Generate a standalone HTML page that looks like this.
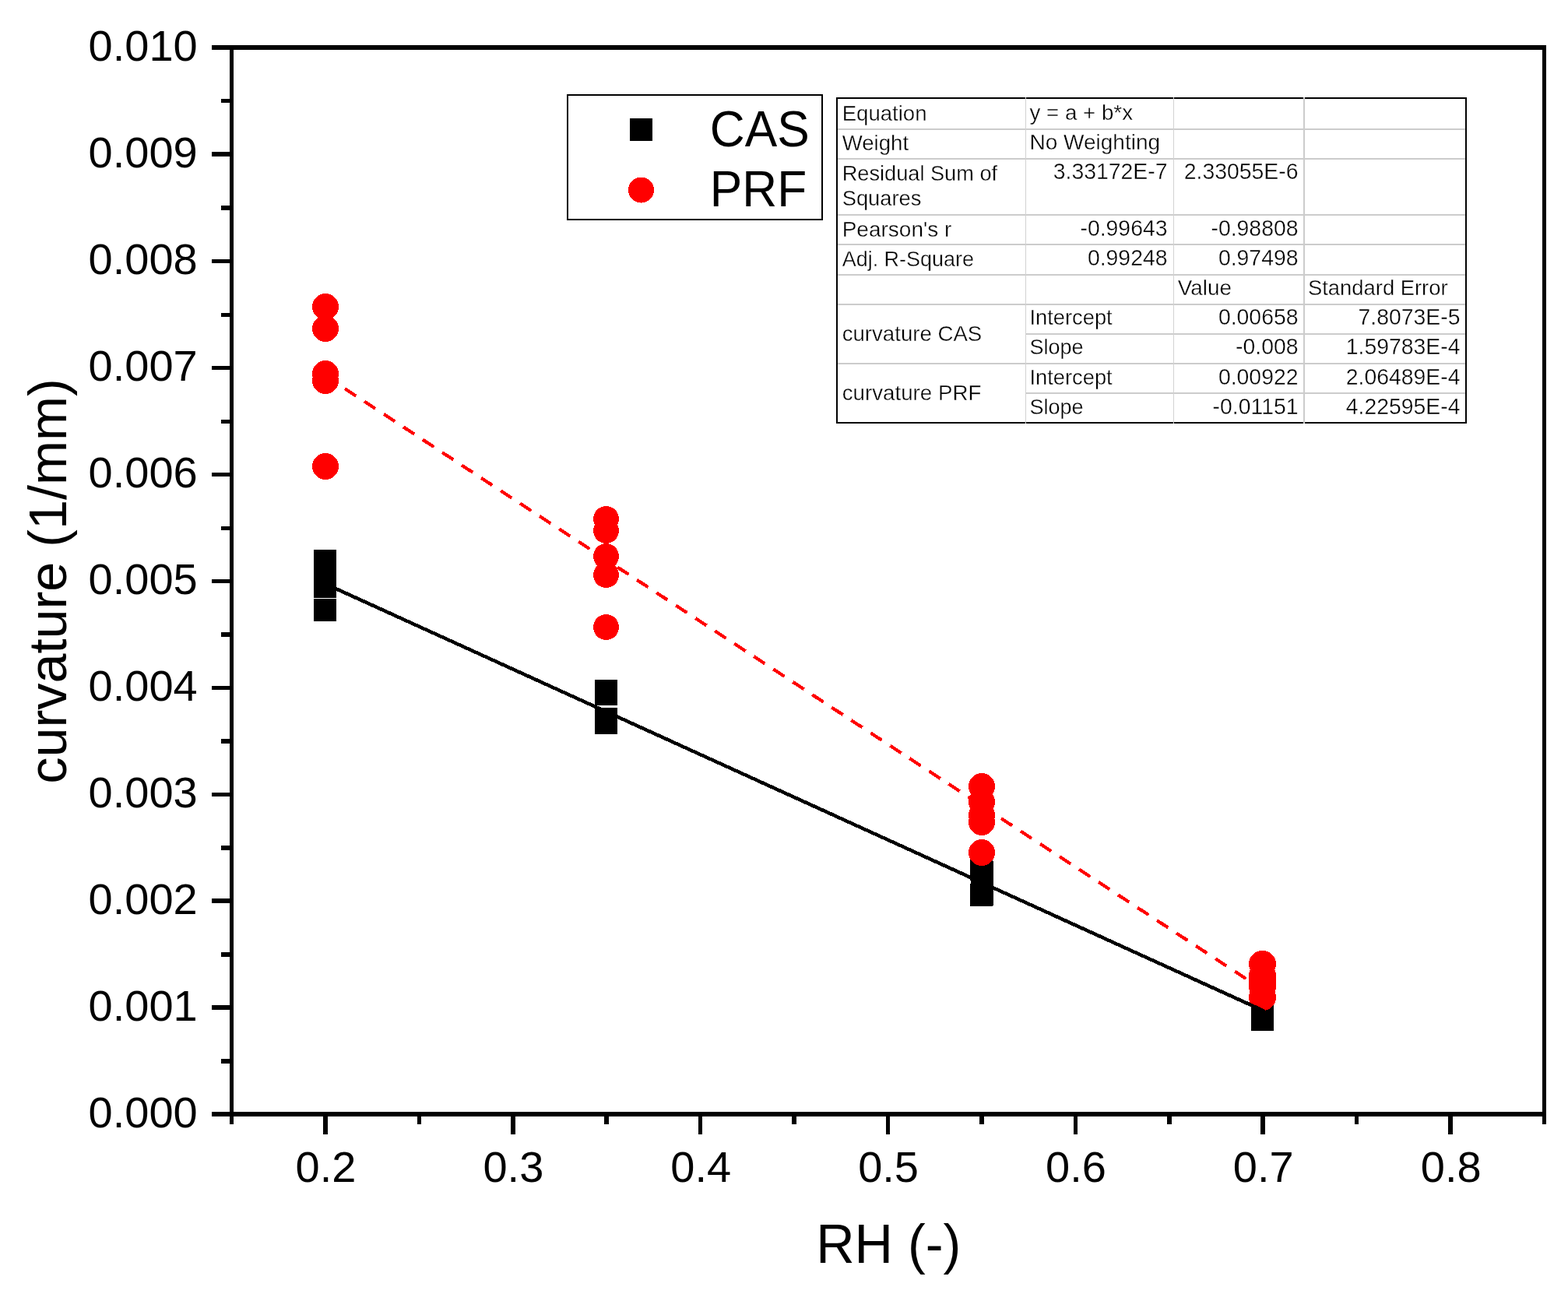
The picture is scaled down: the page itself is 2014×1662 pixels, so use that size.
<!DOCTYPE html>
<html lang="en"><head><meta charset="utf-8"><title>curvature vs RH</title>
<style>html,body{margin:0;padding:0;background:#fff;}svg{display:block;}text{font-family:"Liberation Sans", sans-serif;fill:#000;}</style></head><body>
<svg width="2014" height="1662" viewBox="0 0 2014 1662">
<rect x="0" y="0" width="2014" height="1662" fill="#fff"/>
<g shape-rendering="crispEdges">
<rect x="403" y="706" width="29" height="29" fill="#000"/>
<rect x="403" y="722" width="29" height="29" fill="#000"/>
<rect x="403" y="739" width="29" height="29" fill="#000"/>
<rect x="403" y="769" width="29" height="29" fill="#000"/>
<rect x="764" y="873" width="29" height="29" fill="#000"/>
<rect x="764" y="877" width="29" height="29" fill="#000"/>
<rect x="764" y="909" width="29" height="29" fill="#000"/>
<rect x="764" y="914" width="29" height="29" fill="#000"/>
<rect x="1246" y="1102" width="29" height="29" fill="#000"/>
<rect x="1247" y="1106" width="29" height="29" fill="#000"/>
<rect x="1247" y="1134" width="29" height="29" fill="#000"/>
<rect x="1246" y="1135" width="29" height="29" fill="#000"/>
<rect x="1607" y="1288" width="29" height="29" fill="#000"/>
<rect x="1607" y="1295" width="29" height="29" fill="#000"/>
<ellipse cx="418" cy="394" rx="17" ry="17" fill="#f00"/>
<ellipse cx="418" cy="422" rx="17" ry="17" fill="#f00"/>
<ellipse cx="418" cy="480" rx="17" ry="17" fill="#f00"/>
<ellipse cx="418" cy="489" rx="17" ry="17" fill="#f00"/>
<ellipse cx="418" cy="599" rx="17" ry="17" fill="#f00"/>
<ellipse cx="778.5" cy="666.5" rx="16.5" ry="16.5" fill="#f00"/>
<ellipse cx="778.5" cy="681.5" rx="16.5" ry="16.5" fill="#f00"/>
<ellipse cx="778.5" cy="714.5" rx="16.5" ry="16.5" fill="#f00"/>
<ellipse cx="778.5" cy="738.5" rx="16.5" ry="16.5" fill="#f00"/>
<ellipse cx="778.5" cy="805.5" rx="16.5" ry="16.5" fill="#f00"/>
<ellipse cx="1261" cy="1010" rx="17" ry="17" fill="#f00"/>
<ellipse cx="1261" cy="1030" rx="17" ry="17" fill="#f00"/>
<ellipse cx="1261" cy="1047" rx="17" ry="17" fill="#f00"/>
<ellipse cx="1261" cy="1056" rx="17" ry="17" fill="#f00"/>
<ellipse cx="1261" cy="1095" rx="17" ry="17" fill="#f00"/>
<ellipse cx="1621.5" cy="1238.2" rx="17.5" ry="17.5" fill="#f00"/>
<ellipse cx="1621.5" cy="1253.3" rx="17.5" ry="17.5" fill="#f00"/>
<ellipse cx="1621.5" cy="1259.8" rx="17.5" ry="17.5" fill="#f00"/>
<ellipse cx="1621.5" cy="1267" rx="17.5" ry="17.5" fill="#f00"/>
<ellipse cx="1621.5" cy="1280.8" rx="17.5" ry="17.5" fill="#f00"/>
<line x1="417.93" y1="749.94" x2="1622.21" y2="1297.94" stroke="#000" stroke-width="4.5" stroke-linecap="square"/>
<line x1="417.93" y1="482.83" x2="1260.93" y2="1034.74" stroke="#f00" stroke-width="4.2" stroke-dasharray="17 12.9"/>
<line x1="1260.93" y1="1034.74" x2="1622.21" y2="1271.27" stroke="#f00" stroke-width="4.2" stroke-dasharray="17 12.9"/>
</g>
<g shape-rendering="crispEdges">
<rect x="295" y="58" width="5" height="1376" fill="#000"/>
<rect x="1981" y="58" width="5" height="1386" fill="#000"/>
<rect x="272" y="58" width="1714" height="6" fill="#000"/>
<rect x="272" y="1428" width="1714" height="6" fill="#000"/>
<rect x="272" y="195" width="24" height="6" fill="#000"/>
<rect x="272" y="333" width="24" height="5" fill="#000"/>
<rect x="272" y="470" width="24" height="5" fill="#000"/>
<rect x="272" y="607" width="24" height="5" fill="#000"/>
<rect x="272" y="744" width="24" height="5" fill="#000"/>
<rect x="272" y="881" width="24" height="5" fill="#000"/>
<rect x="272" y="1018" width="24" height="5" fill="#000"/>
<rect x="272" y="1154" width="24" height="6" fill="#000"/>
<rect x="272" y="1291" width="24" height="6" fill="#000"/>
<rect x="284" y="127" width="12" height="5" fill="#000"/>
<rect x="284" y="264" width="12" height="6" fill="#000"/>
<rect x="284" y="402" width="12" height="5" fill="#000"/>
<rect x="284" y="539" width="12" height="5" fill="#000"/>
<rect x="284" y="676" width="12" height="5" fill="#000"/>
<rect x="284" y="812" width="12" height="6" fill="#000"/>
<rect x="284" y="949" width="12" height="6" fill="#000"/>
<rect x="284" y="1086" width="12" height="6" fill="#000"/>
<rect x="284" y="1223" width="12" height="6" fill="#000"/>
<rect x="284" y="1360" width="12" height="6" fill="#000"/>
<rect x="415" y="1433" width="6" height="24" fill="#000"/>
<rect x="656" y="1433" width="6" height="24" fill="#000"/>
<rect x="897" y="1433" width="5" height="24" fill="#000"/>
<rect x="1138" y="1433" width="5" height="24" fill="#000"/>
<rect x="1379" y="1433" width="5" height="24" fill="#000"/>
<rect x="1619" y="1433" width="6" height="24" fill="#000"/>
<rect x="1860" y="1433" width="6" height="24" fill="#000"/>
<rect x="295" y="1433" width="5" height="11" fill="#000"/>
<rect x="536" y="1433" width="5" height="11" fill="#000"/>
<rect x="776" y="1433" width="6" height="11" fill="#000"/>
<rect x="1017" y="1433" width="6" height="11" fill="#000"/>
<rect x="1258" y="1433" width="6" height="11" fill="#000"/>
<rect x="1499" y="1433" width="6" height="11" fill="#000"/>
<rect x="1740" y="1433" width="5" height="11" fill="#000"/>
</g>
<g font-size="56px">
<text x="253.7" y="1448.4" text-anchor="end">0.000</text>
<text x="253.7" y="1311.4" text-anchor="end">0.001</text>
<text x="253.7" y="1174.4" text-anchor="end">0.002</text>
<text x="253.7" y="1037.4" text-anchor="end">0.003</text>
<text x="253.7" y="900.4" text-anchor="end">0.004</text>
<text x="253.7" y="763.4" text-anchor="end">0.005</text>
<text x="253.7" y="626.4" text-anchor="end">0.006</text>
<text x="253.7" y="489.4" text-anchor="end">0.007</text>
<text x="253.7" y="352.4" text-anchor="end">0.008</text>
<text x="253.7" y="215.4" text-anchor="end">0.009</text>
<text x="253.7" y="78.4" text-anchor="end">0.010</text>
<text x="418.5" y="1518.4" text-anchor="middle">0.2</text>
<text x="659.4" y="1518.4" text-anchor="middle">0.3</text>
<text x="900.2" y="1518.4" text-anchor="middle">0.4</text>
<text x="1141.1" y="1518.4" text-anchor="middle">0.5</text>
<text x="1382.0" y="1518.4" text-anchor="middle">0.6</text>
<text x="1622.8" y="1518.4" text-anchor="middle">0.7</text>
<text x="1863.7" y="1518.4" text-anchor="middle">0.8</text>
</g>
<text transform="translate(1141.2 1622) scale(1 1.02)" font-size="68.4px" text-anchor="middle">RH (-)</text>
<text transform="translate(85 746.5) rotate(-90)" font-size="68.4px" text-anchor="middle">curvature (1/mm)</text>
<g shape-rendering="crispEdges">
<rect x="729" y="122" width="327" height="160" fill="#fff" stroke="#000" stroke-width="2"/>
<rect x="809" y="152" width="29" height="29" fill="#000"/>
<circle cx="823.5" cy="244" r="16.5" fill="#f00"/>
</g>
<text transform="translate(911.8 188) scale(1 1.045)" font-size="62.2px">CAS</text>
<text transform="translate(911.8 265) scale(1 1.045)" font-size="62.2px">PRF</text>
<g shape-rendering="crispEdges">
<rect x="1075" y="126" width="808" height="417" fill="#fff" stroke="#000" stroke-width="2"/>
<rect x="1076" y="165" width="806" height="2" fill="#cccccc"/>
<rect x="1076" y="203" width="806" height="2" fill="#cccccc"/>
<rect x="1076" y="275" width="806" height="2" fill="#cccccc"/>
<rect x="1076" y="313" width="806" height="2" fill="#cccccc"/>
<rect x="1076" y="352" width="806" height="2" fill="#cccccc"/>
<rect x="1076" y="390" width="806" height="2" fill="#cccccc"/>
<rect x="1076" y="466" width="806" height="2" fill="#cccccc"/>
<rect x="1317" y="428" width="565" height="2" fill="#cccccc"/>
<rect x="1317" y="504" width="565" height="2" fill="#cccccc"/>
<rect x="1317" y="125" width="1" height="419" fill="#d2d2d2"/>
<rect x="1507" y="125" width="1" height="419" fill="#d2d2d2"/>
<rect x="1674" y="125" width="2" height="419" fill="#cccccc"/>
</g>
<g stroke="#fff" stroke-width="0.35">
<text transform="translate(1081.7 155) scale(0.985 1)" font-size="28px">Equation</text>
<text transform="translate(1322.5 154) scale(0.99 1)" font-size="28px">y = a + b*x</text>
<text transform="translate(1081.7 192.7) scale(0.986 1)" font-size="28px">Weight</text>
<text x="1322.5" y="192" font-size="28px">No Weighting</text>
<text transform="translate(1081.7 232) scale(0.971 1)" font-size="28px">Residual Sum of</text>
<text transform="translate(1081.7 264.3) scale(0.975 1)" font-size="28px">Squares</text>
<text transform="translate(1499.5 229.6) scale(1.014 1.03)" font-size="28px" text-anchor="end">3.33172E-7</text>
<text transform="translate(1667.5 229.6) scale(1.014 1.03)" font-size="28px" text-anchor="end">2.33055E-6</text>
<text x="1081.7" y="303.5" font-size="28px">Pearson&#39;s r</text>
<text transform="translate(1499.5 303.2) scale(1.014 1.03)" font-size="28px" text-anchor="end">-0.99643</text>
<text transform="translate(1667.5 303.2) scale(1.014 1.03)" font-size="28px" text-anchor="end">-0.98808</text>
<text transform="translate(1081.7 342) scale(0.963 1)" font-size="28px">Adj. R-Square</text>
<text transform="translate(1499.5 341) scale(1.014 1.03)" font-size="28px" text-anchor="end">0.99248</text>
<text transform="translate(1667.5 341) scale(1.014 1.03)" font-size="28px" text-anchor="end">0.97498</text>
<text transform="translate(1512.8 378.6) scale(0.995 1)" font-size="28px">Value</text>
<text transform="translate(1680 378.9) scale(0.978 1)" font-size="28px">Standard Error</text>
<text transform="translate(1081.7 437.7) scale(0.987 1)" font-size="28px">curvature CAS</text>
<text transform="translate(1322.5 416.8) scale(0.975 1)" font-size="28px">Intercept</text>
<text transform="translate(1667.5 416.8) scale(1.014 1.03)" font-size="28px" text-anchor="end">0.00658</text>
<text transform="translate(1875.5 416.8) scale(1.014 1.03)" font-size="28px" text-anchor="end">7.8073E-5</text>
<text transform="translate(1322.5 454.8) scale(0.965 1)" font-size="28px">Slope</text>
<text transform="translate(1667.5 454.8) scale(1.014 1.03)" font-size="28px" text-anchor="end">-0.008</text>
<text transform="translate(1875.5 454.8) scale(1.014 1.03)" font-size="28px" text-anchor="end">1.59783E-4</text>
<text transform="translate(1081.7 513.8) scale(0.99 1)" font-size="28px">curvature PRF</text>
<text transform="translate(1322.5 493.6) scale(0.975 1)" font-size="28px">Intercept</text>
<text transform="translate(1667.5 493.6) scale(1.014 1.03)" font-size="28px" text-anchor="end">0.00922</text>
<text transform="translate(1875.5 493.6) scale(1.014 1.03)" font-size="28px" text-anchor="end">2.06489E-4</text>
<text transform="translate(1322.5 531.6) scale(0.965 1)" font-size="28px">Slope</text>
<text transform="translate(1667.5 531.6) scale(1.014 1.03)" font-size="28px" text-anchor="end">-0.01151</text>
<text transform="translate(1875.5 531.6) scale(1.014 1.03)" font-size="28px" text-anchor="end">4.22595E-4</text>
</g>
</svg>
</body></html>
